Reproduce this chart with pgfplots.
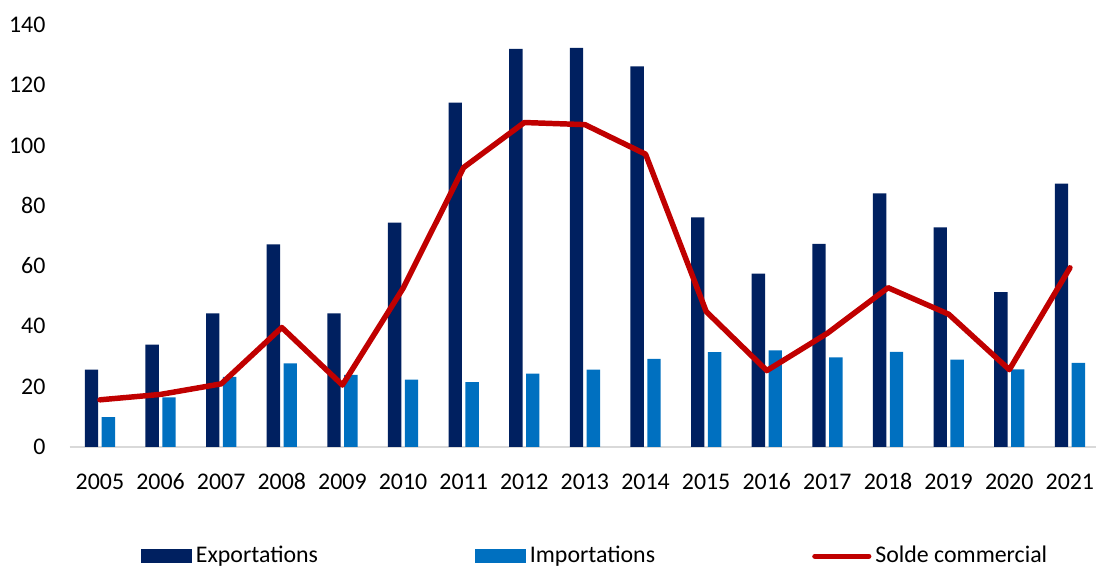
\documentclass[border=0pt]{standalone}
\usepackage{pgfplots}
\pgfplotsset{compat=1.18}
\usepackage{pgfplotstable}
\usepackage{fontspec}
\setmainfont{Carlito}

\definecolor{expo}{HTML}{002060}
\definecolor{impo}{HTML}{0070C0}
\definecolor{solde}{HTML}{C00000}
\definecolor{axisgray}{HTML}{D9D9D9}

\pgfplotstableread{
annee expo impo solde
2005 25.6 9.9 15.6
2006 33.9 16.4 17.4
2007 44.3 23.2 20.9
2008 67.2 27.7 39.6
2009 44.3 23.9 20.5
2010 74.4 22.3 52.6
2011 114.2 21.5 92.7
2012 132.0 24.3 107.6
2013 132.4 25.6 106.9
2014 126.2 29.2 97.1
2015 76.1 31.4 44.9
2016 57.5 32.0 25.3
2017 67.3 29.7 37.7
2018 84.1 31.5 52.8
2019 72.8 28.9 44.0
2020 51.3 25.7 25.6
2021 87.3 27.9 59.4
}\donnees

\begin{document}
\fontsize{12}{14}\selectfont
\begin{tikzpicture}
\begin{axis}[
    scale only axis,
    width=516pt, height=212.15pt,
    xmin=2004.5, xmax=2021.43,
    ymin=0, ymax=140,
    xtick={2005,...,2021},
    ytick={0,20,...,140},
    tick label style={font=\fontsize{12}{14}\selectfont},
    /pgf/number format/assume math mode=true,
    xticklabel style={/pgf/number format/1000 sep={}, text height=1.6ex, text depth=0pt, yshift=-8pt},
    yticklabel style={xshift=-8pt},
    axis x line*=bottom,
    axis y line*=left,
    y axis line style={draw=none},
    x axis line style={draw=axisgray, line width=1pt},
    major tick length=0pt,
    clip=false,
    legend columns=3,
    legend style={at={(0,0)}, anchor=west, xshift=36pt, yshift=-55pt,
        draw=none, inner sep=0pt, outer sep=0pt, font=\fontsize{12}{14}\selectfont,
        /tikz/every even column/.append style={column sep=77pt}},
    legend cell align=left,
]
\addplot[ybar, bar width=6.75pt, bar shift=-4.25pt, fill=expo, draw=none,
    legend image code/.code={\fill[expo] (0pt,-3.5pt) rectangle (25.5pt,3.5pt);}]
    table[x=annee, y=expo] {\donnees};
\addlegendentry{Exportations}
\addplot[ybar, bar width=6.75pt, bar shift=4.25pt, fill=impo, draw=none,
    legend image code/.code={\fill[impo] (0pt,-3.5pt) rectangle (25.5pt,3.5pt);}]
    table[x=annee, y=impo] {\donnees};
\addlegendentry{Importations}
\addplot[sharp plot, color=solde, line width=2.75pt, line join=round, line cap=round, mark=none,
    legend image code/.code={\draw[solde, line width=2.75pt, line cap=round] (0pt,0pt) -- (27pt,0pt);}]
    table[x=annee, y=solde] {\donnees};
\addlegendentry{Solde commercial}
\end{axis}
\useasboundingbox (-35pt,-58.8pt) rectangle (516pt,224.65pt);
\end{tikzpicture}
\end{document}
